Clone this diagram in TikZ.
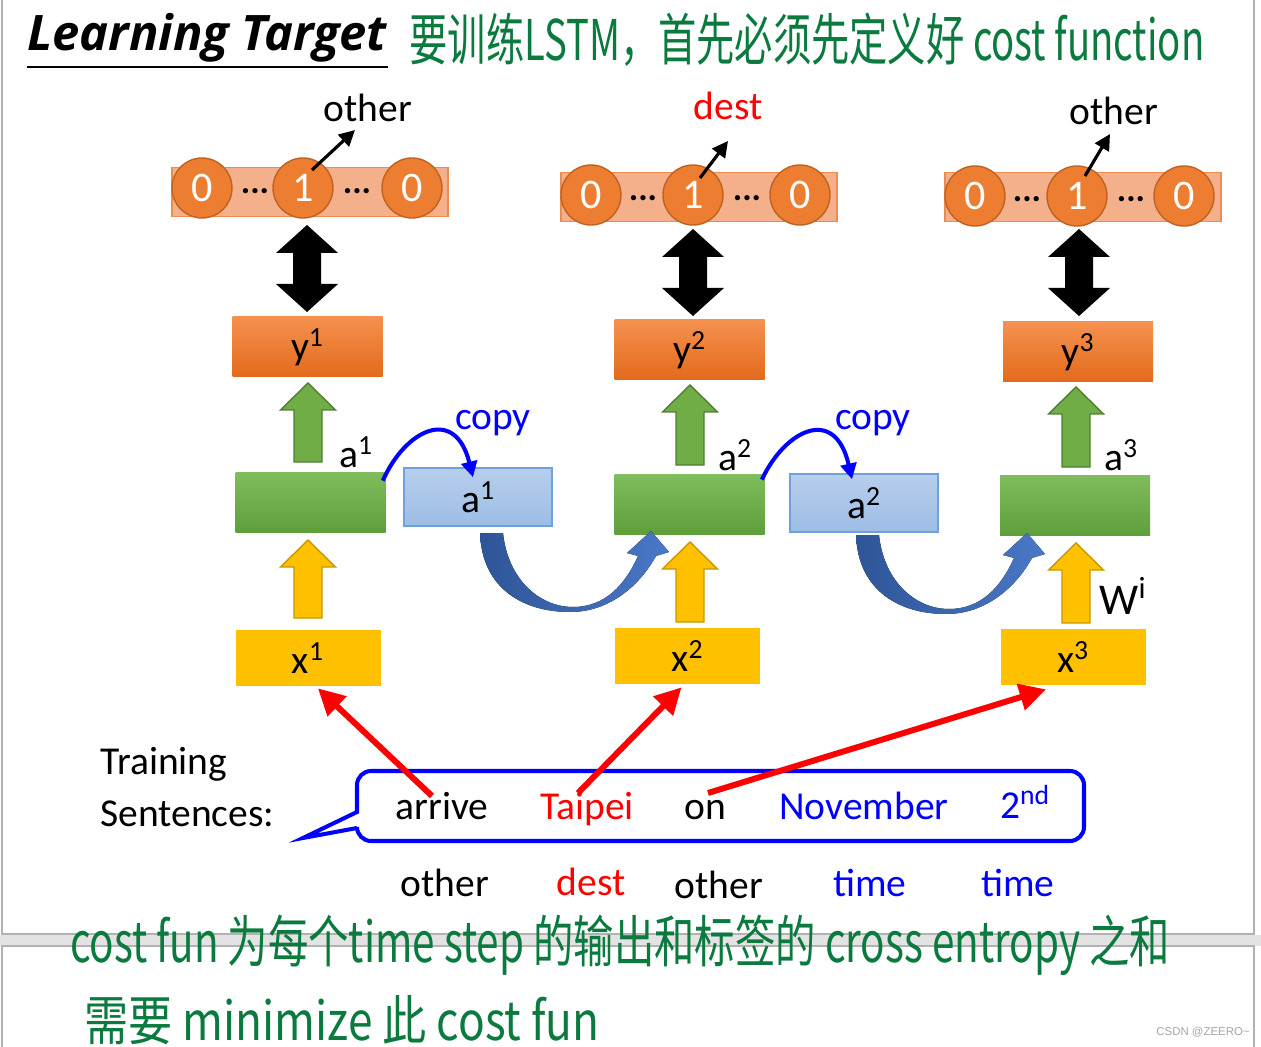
\documentclass[tikz,border=0pt]{standalone}
\usepackage{fontspec}
\setmainfont{Carlito}
\newfontfamily\cjk{Noto Sans CJK SC}
\newfontfamily\titlefont{Open Sans}
\newfontfamily\wmfont{Liberation Sans}
\usetikzlibrary{arrows.meta,calc}
\definecolor{orTop}{HTML}{F5914F}
\definecolor{orBot}{HTML}{E36A1C}
\definecolor{grTop}{HTML}{80BD5C}
\definecolor{grBot}{HTML}{5E9F3B}
\definecolor{grArr}{HTML}{70AD47}
\definecolor{grArrD}{HTML}{507E32}
\definecolor{yel}{HTML}{FFC000}
\definecolor{yelD}{HTML}{C99800}
\definecolor{cpTop}{HTML}{B7CEEC}
\definecolor{cpBot}{HTML}{9DBDE6}
\definecolor{cpD}{HTML}{6FA1DD}
\definecolor{circ}{HTML}{ED7D31}
\definecolor{circD}{HTML}{C0621F}
\definecolor{barF}{HTML}{F4B08A}
\definecolor{barD}{HTML}{EE8B4E}
\definecolor{bluedk}{HTML}{2E5597}
\definecolor{bluelt}{HTML}{4A78C8}
\definecolor{pureblue}{HTML}{0000FF}
\definecolor{purered}{HTML}{FF0000}
\definecolor{hand}{HTML}{0B7A3E}
\def\pxu{0.02cm}
\newcommand\upblk[5]{%
  \filldraw[fill=#4,draw=#5,line width=0.8pt]
    (#1-14,#2) -- (#1-14,#3+27) -- (#1-27.5,#3+27) -- (#1,#3) -- (#1+27.5,#3+27)
    -- (#1+14,#3+27) -- (#1+14,#2) -- cycle;}
\newcommand\dblblk[3]{%
  \fill[black] (#1,#2) -- (#1+31,#2+28) -- (#1+14,#2+28) -- (#1+14,#3-28)
    -- (#1+31,#3-28) -- (#1,#3) -- (#1-31,#3-28) -- (#1-14,#3-28)
    -- (#1-14,#2+28) -- (#1-31,#2+28) -- cycle;}
\newcommand\curvblk{%
  (480,533) .. controls (482,590) and (525,612) .. (570,612)
  .. controls (610,612) and (640,585) .. (656,556) -- (669,552) -- (651,531)
  -- (627,553) -- (638,556) .. controls (625,585) and (605,607) .. (573,607)
  .. controls (540,607) and (508,580) .. (503,533) -- cycle}
\begin{document}
\begin{tikzpicture}[x=0.02cm,y=-0.02cm,
  lbl/.style={font=\fontsize{22.5}{27}\selectfont, inner sep=0pt},
  wrd/.style={lbl, anchor=base},
  ybox/.style={top color=orTop, bottom color=orBot, draw=none, minimum width=150*\pxu, minimum height=60*\pxu, font=\fontsize{22.5}{27}\selectfont, inner sep=0pt},
  gbox/.style={top color=grTop, bottom color=grBot, draw=none, minimum width=150*\pxu, minimum height=60*\pxu, inner sep=0pt},
  cbox/.style={top color=cpTop, bottom color=cpBot, draw=cpD, line width=0.8pt, minimum width=148*\pxu, minimum height=58*\pxu, font=\fontsize{22.5}{27}\selectfont, inner sep=0pt},
  xbox/.style={fill=yel, draw=none, minimum width=145*\pxu, minimum height=56*\pxu, font=\fontsize{22.5}{27}\selectfont, inner sep=0pt},
  bar/.style={fill=barF, draw=barD, line width=0.8pt, minimum width=276*\pxu, minimum height=49*\pxu, inner sep=0pt},
  onehot/.style={circle, fill=circ, draw=circD, line width=0.8pt, minimum size=60*\pxu, inner sep=0pt, text=white, font=\fontsize{24}{28}\selectfont},
  dots/.style={inner sep=0pt, font=\fontsize{20}{24}\selectfont\bfseries},
  blkarr/.style={line width=1.8pt, -{Triangle[length=9pt,width=9pt]}},
  copyarr/.style={pureblue, line width=2.3pt, -{Triangle[length=9pt,width=9pt]}},
  redarr/.style={purered, line width=3.4pt, -{Triangle[length=15pt,width=15pt]}},
  hw/.style={text=hand, inner sep=0pt}
]
\useasboundingbox (0,0) rectangle (1261,1047);
\fill[white] (0,0) rectangle (1261,1047);
% slide frames
\fill[gray!22] (0,935) rectangle (1261,946);
\draw[gray!60, line width=0.9pt] (2,-5) -- (2,934) -- (1254,934) -- (1254,-5);
\draw[gray!60, line width=0.9pt] (2,1052) -- (2,946) -- (1254,946) -- (1254,1052);

% title
\node[inner sep=0pt] (title) at (207,38) {\resizebox{7.2cm}{!}{\titlefont\bfseries\itshape Learning Target}};
\draw[line width=1.7pt] (27,67) -- (388,67);
\node[hw] (hw1) at (807,40) {\resizebox{15.9cm}{0.95cm}{\cjk 要训练LSTM，首先必须先定义好 cost function}};

% one-hot bars
\node[bar] (bar1) at (310,192) {};
\node[onehot] (o11) at (202,188) {0};
\node[onehot] (o12) at (303,188) {1};
\node[onehot] (o13) at (412,188) {0};
\node[dots] at (255,191) {...};
\node[dots] at (357,191) {...};
\node[wrd] (t1) at (368,122) {other};
\draw[blkarr] ($(o12.center)+(9,-18)$) -- ($(o12.center)+(52,-58)$);

\node[bar] (bar2) at (699,197) {};
\node[onehot] (o21) at (591,195) {0};
\node[onehot] (o22) at (693,195) {1};
\node[onehot] (o23) at (800,195) {0};
\node[dots] at (643,198) {...};
\node[dots] at (747,198) {...};
\node[wrd, text=purered] (t2) at (728,120) {dest};
\draw[blkarr] ($(o22.center)+(7,-17)$) -- ($(o22.center)+(35,-54)$);

\node[bar] (bar3) at (1083,197) {};
\node[onehot] (o31) at (975,196) {0};
\node[onehot] (o32) at (1077,196) {1};
\node[onehot] (o33) at (1184,196) {0};
\node[dots] at (1027,199) {...};
\node[dots] at (1131,199) {...};
\node[wrd] (t3) at (1114,125) {other};
\draw[blkarr] ($(o32.center)+(8,-20)$) -- ($(o32.center)+(33,-62)$);

% double arrows
\dblblk{307}{225}{312}
\dblblk{693}{229}{316}
\dblblk{1079}{229}{316}

% output boxes
\node[ybox] (y1) at (307.5,347) {y\textsuperscript{1}};
\node[ybox] (y2) at (689.5,350) {y\textsuperscript{2}};
\node[ybox] (y3) at (1078,352) {y\textsuperscript{3}};

% green arrows
\upblk{308}{462}{383}{grArr}{grArrD}
\upblk{690}{465}{385}{grArr}{grArrD}
\upblk{1076}{467}{387}{grArr}{grArrD}

% memory cells
\node[gbox] (g1) at (310.5,502) {};
\node[gbox] (g2) at (689.5,504) {};
\node[gbox] (g3) at (1075,505) {};
\node[lbl] (la1) at (356,452) {a\textsuperscript{1}};
\node[lbl] (la2) at (735,455) {a\textsuperscript{2}};
\node[lbl] (la3) at (1121,455) {a\textsuperscript{3}};

% copies
\node[cbox] (c1) at (478,497) {a\textsuperscript{1}};
\node[cbox] (c2) at (864,503) {a\textsuperscript{2}};
\node[lbl, text=pureblue] (cp1) at (493,423) {copy};
\node[lbl, text=pureblue] (cp2) at (873,423) {copy};
\draw[copyarr] ($(g1.north east)+(-3,9)$) .. controls (405,430) and (455,405) .. ($(c1.north)+(-5,10)$);
\draw[copyarr] ($(g2.north east)+(-3,6)$) .. controls (785,430) and (835,405) .. ($(c2.north)+(-12,6)$);

% curved block arrows
\fill[left color=bluedk, right color=bluelt] \curvblk;
\begin{scope}[shift={(376,2)}]
\fill[left color=bluedk, right color=bluelt] \curvblk;
\end{scope}

% yellow arrows
\upblk{308}{618}{540}{yel}{yelD}
\upblk{690}{622}{542}{yel}{yelD}
\upblk{1076}{623}{543}{yel}{yelD}
\node[inner sep=0pt, font=\fontsize{25}{30}\selectfont] (wi) at (1123,596) {W\textsuperscript{i}};

% inputs
\node[xbox] (x1) at (308,658) {x\textsuperscript{1}};
\node[xbox] (x2) at (687.5,656) {x\textsuperscript{2}};
\node[xbox] (x3) at (1073,657) {x\textsuperscript{3}};

% training sentence
\node[lbl, anchor=west, align=left] (ts) at (100,787) {Training\\[3pt]Sentences:};
\draw[pureblue, line width=2.3pt] (357,812) [rounded corners=8pt] -- (357,771) -- (1084,771) -- (1084,841) -- (357,841) [sharp corners] -- (357,828) -- (303,838) -- cycle;
\node[wrd] (w1) at (442,819) {arrive};
\node[wrd, text=purered] (w2) at (587,819) {Taipei};
\node[wrd] (w3) at (705,819) {on};
\node[wrd, text=pureblue] (w4) at (864,819) {November};
\node[wrd, text=pureblue] (w5) at (1025,818) {2\textsuperscript{nd}};

\draw[redarr] ($(w1.base)+(-10,-23)$) -- ($(x1.south)+(10,2)$);
\draw[redarr] ($(w2.base)+(-9,-26)$) -- ($(x2.south)+(-6,3)$);
\draw[redarr] ($(w3.base)+(3,-26)$) -- ($(x3.south)+(-27,4)$);

% labels
\node[wrd] (l1) at (445,896) {other};
\node[wrd, text=purered] (l2) at (591,895) {dest};
\node[wrd] (l3) at (719,898) {other};
\node[wrd, text=pureblue] (l4) at (870,896) {time};
\node[wrd, text=pureblue] (l5) at (1018,896) {time};

% handwritten notes
\node[hw] (hw2) at (620,945) {\resizebox{22cm}{0.95cm}{\cjk cost fun 为每个time step 的输出和标签的 cross entropy 之和}};
\node[hw] (hw3) at (342,1020) {\resizebox{10.3cm}{0.9cm}{\cjk 需要 minimize 此 cost fun}};

\node[inner sep=0pt, text=gray!70, font=\wmfont\fontsize{6.5}{8}\selectfont] (wm) at (1203,1032) {CSDN @ZEERO\textasciitilde};
\end{tikzpicture}
\end{document}
